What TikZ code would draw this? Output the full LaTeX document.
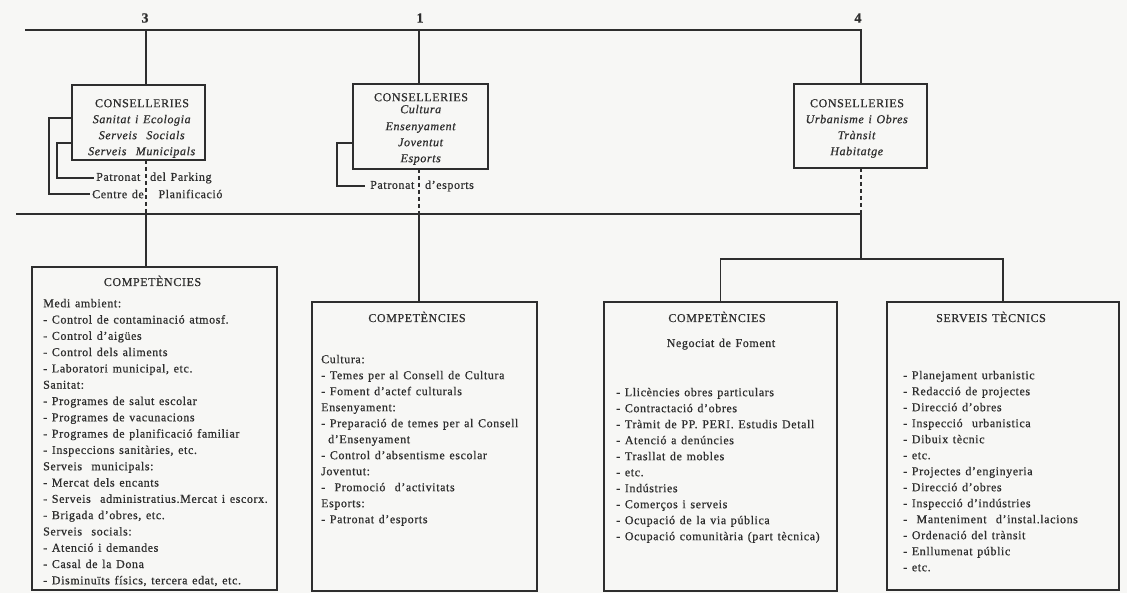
\documentclass[tikz,border=0pt]{standalone}
\usepackage{fontspec}
\setmainfont{Liberation Serif}[LetterSpace=5,WordSpace=1.3,FakeBold=0.7]
\definecolor{ink}{HTML}{2E2E2E}
\definecolor{paper}{HTML}{F7F7F5}
\begin{document}
\begin{tikzpicture}[x=1pt,y=-1pt,
  every node/.style={text=ink},
  ln/.style={draw=ink,line width=1.2pt},
  dsh/.style={draw=ink,line width=1.2pt,dash pattern=on 4pt off 3pt},
  box/.style={draw=ink,line width=1.2pt,inner sep=0pt,outer sep=0pt},
  txt/.style={inner sep=0pt,font=\fontsize{12}{16}\selectfont},
  lst/.style={inner sep=0pt,anchor=north west,align=left},
  lbl/.style={inner sep=0pt,font=\fontsize{14}{16}\selectfont\bfseries}]
\useasboundingbox (0,0) rectangle (1127,593);
\fill[paper] (0,0) rectangle (1127,593);

% bus coordinates
\coordinate (tl) at (25,30);
\coordinate (c3) at (146,30);
\coordinate (c1) at (419,30);
\coordinate (c4) at (861,30);
\coordinate (ml) at (16,214);
\coordinate (mr) at (861,214);
\coordinate (sp) at (861,259);
\coordinate (o3) at (49,118);
\coordinate (i3) at (57,143);
\coordinate (o1) at (337,143);

% labels
\node[lbl] (n3) at (145,18) {3};
\node[lbl] (n1) at (420,18) {1};
\node[lbl] (n4) at (858,18) {4};

% conselleries boxes
\node[box,minimum width=133pt,minimum height=75pt] (b3) at (138.5,122.5) {};
\node[box,minimum width=135pt,minimum height=85pt] (b1) at (420.5,126.5) {};
\node[box,minimum width=133pt,minimum height=84pt] (b4) at (860.5,126) {};

\node[txt,anchor=north,align=center] (t3) at (142,95.8)
  {\strut CONSELLERIES\\ \textit{Sanitat i Ecologia}\\ \textit{Serveis\ \ Socials}\\ \textit{Serveis\ \ Municipals}};
\node[txt,anchor=north,align=center] (t1) at (421,89.8)
  {\strut CONSELLERIES\\[-4pt] \textit{Cultura}\\[1pt] \textit{Ensenyament}\\ \textit{Joventut}\\ \textit{Esports}};
\node[txt,anchor=north,align=center] (t4) at (857,95.8)
  {\strut CONSELLERIES\\ \textit{Urbanisme i Obres}\\ \textit{Trànsit}\\ \textit{Habitatge}};

% side labels
\node[txt,anchor=west,inner xsep=2pt] (pp) at (94,178) {Patronat\hspace{5pt} del Parking};
\node[txt,anchor=west,inner xsep=2pt] (cp) at (90,194) {Centre de\hspace{10pt} Planificació};
\node[txt,anchor=west,inner xsep=5pt] (pe) at (365,186) {Patronat\hspace{6pt} d'esports};

% lower boxes
\node[box,minimum width=245pt,minimum height=323pt] (bA) at (154.5,428.5) {};
\node[box,minimum width=225pt,minimum height=289pt] (bB) at (424.5,446.5) {};
\node[box,minimum width=233pt,minimum height=289pt] (bC) at (720.5,446.5) {};
\node[box,minimum width=232pt,minimum height=288pt] (bD) at (1003,446) {};

% connectors
\draw[ln] (tl) -- (c4) -- (c4 |- b4.north);
\draw[ln] (c3) -- (c3 |- b3.north);
\draw[ln] (c1) -- (c1 |- b1.north);
\draw[dsh] (c3 |- b3.south) -- (c3 |- ml);
\draw[dsh] (c1 |- b1.south) -- (c1 |- ml);
\draw[dsh] (c4 |- b4.south) -- (mr);
\draw[ln] (ml) -- (mr) -- (sp);
\draw[ln] (c3 |- ml) -- (c3 |- bA.north);
\draw[ln] (c1 |- ml) -- (c1 |- bB.north);
\draw[ln] (bC.north) |- (sp) -| (bD.north);
\draw[ln] (o3 -| b3.west) -- (o3) |- (cp.west);
\draw[ln] (i3 -| b3.west) -- (i3) |- (pp.west);
\draw[ln] (o1 -| b1.west) -- (o1) |- (pe.west);

% box A text
\node[txt,anchor=base] (hA) at (152.5,286) {COMPETÈNCIES};
\node[txt,lst,font=\fontsize{12}{16.3}\selectfont] (lA) at (43,295.6)
  {\strut Medi ambient:\\
   - Control de contaminació atmosf.\\
   - Control d'aigües\\
   - Control dels aliments\\
   - Laboratori municipal, etc.\\
   Sanitat:\\
   - Programes de salut escolar\\
   - Programes de vacunacions\\
   - Programes de planificació familiar\\
   - Inspeccions sanitàries, etc.\\
   Serveis\ \ municipals:\\
   - Mercat dels encants\\
   - Serveis\ \ administratius.Mercat i escorx.\\
   - Brigada d'obres, etc.\\
   Serveis\ \ socials:\\
   - Atenció i demandes\\
   - Casal de la Dona\\
   - Disminuïts físics, tercera edat, etc.};

% box B text
\node[txt,anchor=base] (hB) at (417,322) {COMPETÈNCIES};
\node[txt,lst] (lB) at (321,351.8)
  {\strut Cultura:\\
   - Temes per al Consell de Cultura\\
   - Foment d'actef culturals\\
   Ensenyament:\\
   - Preparació de temes per al Consell\\
   \hspace*{7pt}d'Ensenyament\\
   - Control d'absentisme escolar\\
   Joventut:\\
   -\ \ Promoció\ \ d'activitats\\
   Esports:\\
   - Patronat d'esports};

% box C text
\node[txt,anchor=base] (hC) at (717,322) {COMPETÈNCIES};
\node[txt,anchor=base] (nC) at (721,347) {Negociat de Foment};
\node[txt,lst] (lC) at (616,384.8)
  {\strut - Llicències obres particulars\\
   - Contractació d'obres\\
   - Tràmit de PP. PERI. Estudis Detall\\
   - Atenció a denúncies\\
   - Trasllat de mobles\\
   - etc.\\
   - Indústries\\
   - Comerços i serveis\\
   - Ocupació de la via pública\\
   - Ocupació comunitària (part tècnica)};

% box D text
\node[txt,anchor=base] (hD) at (991,322) {SERVEIS TÈCNICS};
\node[txt,lst] (lD) at (903,367.8)
  {\strut - Planejament urbanistic\\
   - Redacció de projectes\\
   - Direcció d'obres\\
   - Inspecció\ \ urbanistica\\
   - Dibuix tècnic\\
   - etc.\\
   - Projectes d'enginyeria\\
   - Direcció d'obres\\
   - Inspecció d'indústries\\
   -\ \ Manteniment\ \ d'instal.lacions\\
   - Ordenació del trànsit\\
   - Enllumenat públic\\
   - etc.};
\end{tikzpicture}
\end{document}
